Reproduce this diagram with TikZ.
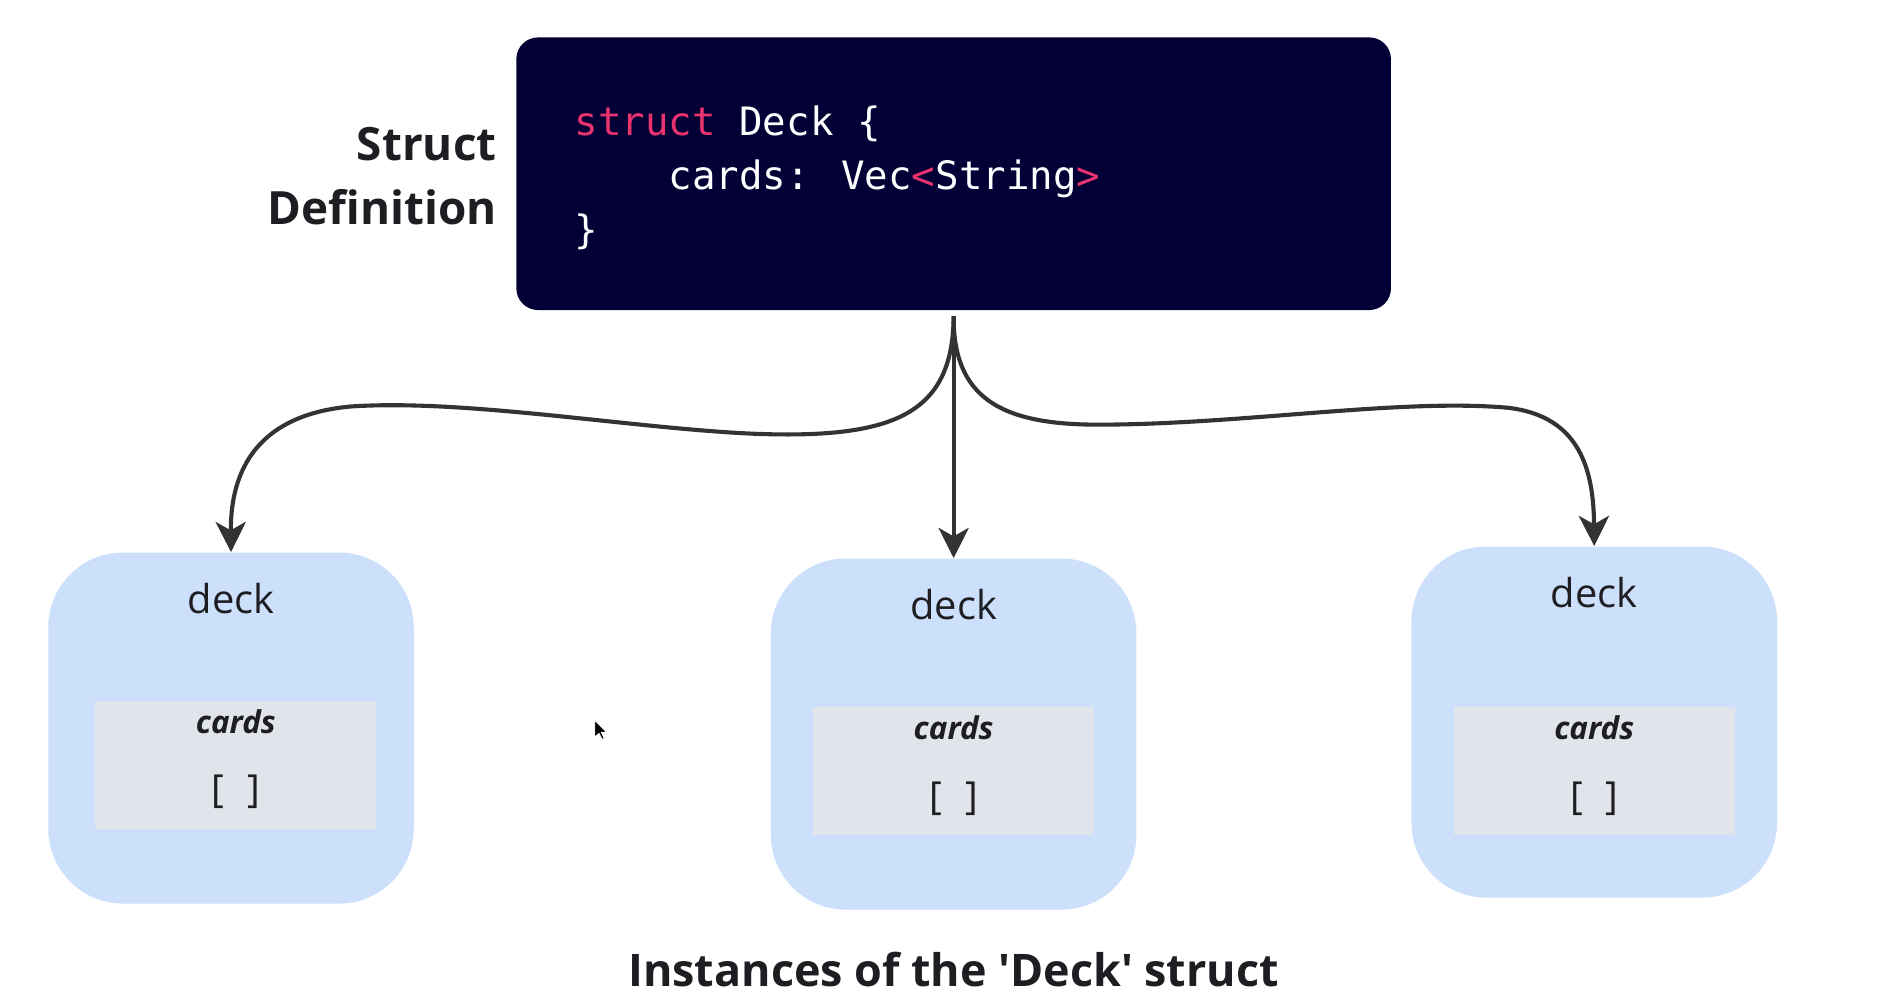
\documentclass[tikz,border=0pt]{standalone}
\usepackage{fontspec}
\setmainfont{Open Sans}[Ligatures=TeXOff]
\newfontfamily\codefont{DejaVu Sans Mono}
\usetikzlibrary{arrows.meta}
\definecolor{navy}{RGB}{2,0,52}
\definecolor{kwpink}{RGB}{232,51,110}
\definecolor{deckblue}{RGB}{205,224,251}
\definecolor{fieldgray}{RGB}{225,229,235}
\definecolor{inktext}{RGB}{30,30,34}
\definecolor{arrowgray}{RGB}{51,51,51}
\tikzset{
  codeline/.style={anchor=base west,inner sep=0pt,text=white,font=\codefont\fontsize{16.2}{20}\selectfont},
  sidelabel/.style={anchor=base east,inner sep=0pt,text=inktext,font=\bfseries\fontsize{19}{23}\selectfont},
  instbox/.style={fill=deckblue,rounded corners=31pt},
  fieldbox/.style={fill=fieldgray},
  decklabel/.style={anchor=base,inner sep=0pt,text=inktext,font=\fontsize{16.5}{20}\selectfont},
  cardslabel/.style={anchor=base,inner sep=0pt,text=inktext,font=\bfseries\itshape\fontsize{13}{16}\selectfont},
  emptylabel/.style={anchor=base,inner sep=0pt,text=inktext,font=\fontsize{16}{20}\selectfont},
  link/.style={draw=arrowgray,line width=1.7pt,-{Stealth[length=12.5pt,width=12.5pt,inset=3.5pt]}},
}
\begin{document}
\begin{tikzpicture}[x=0.5pt,y=-0.5pt]
\useasboundingbox[fill=white] (0,0) rectangle (1565,835.5);
% struct definition box
\node[fill=navy,rounded corners=9pt,minimum width=362.5pt,minimum height=113pt,inner sep=0pt] (def) at (790.5,144) {};
\node[codeline] (l1) at (476,112) {\textcolor{kwpink}{struct} Deck \{};
\node[codeline] (l2) at (554,157) {cards: Vec\textcolor{kwpink}{<}String\textcolor{kwpink}{>}};
\node[codeline] (l3) at (476,202) {\}};
\node[sidelabel] (s1) at (412,133) {Struct};
\node[sidelabel] (s2) at (412,186) {Definition};
% instance boxes
\foreach \n/\cx/\cy/\fx/\fy in {a/191.5/603.5/195.5/634, b/790.5/608.5/790.5/639, c/1321.5/598.5/1321.5/639}{
  \node[instbox,minimum width=151.5pt,minimum height=145.5pt,inner sep=0pt] (box\n) at (\cx,\cy) {};
  \node[fieldbox,minimum width=116.5pt,minimum height=53pt,inner sep=0pt] (field\n) at (\fx,\fy) {};
  \node[decklabel] (deck\n) at ([yshift=-25.5pt]box\n.north) {deck};
  \node[cardslabel] (cards\n) at ([yshift=-13.5pt]field\n.north) {cards};
  \node[emptylabel] (empty\n) at ([yshift=-42.5pt]field\n.north) {[\,\, ]};
}
\coordinate (src) at (790.5,262);
\draw[link] (src) .. controls (790,340) and (745,362) .. (640,360)
  .. controls (540,358) and (390,330) .. (290,337)
  .. controls (205,345) and (191,400) .. (boxa.north);
\draw[link] (src) -- (boxb.north);
\draw[link] (src) .. controls (790,330) and (830,352) .. (910,352)
  .. controls (1030,352) and (1160,330) .. (1250,338)
  .. controls (1310,345) and (1321,390) .. (boxc.north);
% mouse pointer
\fill[black,draw=white,line width=0.4pt] (493,597) -- (493,611) -- (496.5,608) -- (499,613) -- (501,612) -- (498.5,607) -- (503,607) -- cycle;
\node[anchor=base,inner sep=0pt,text=inktext,font=\bfseries\fontsize{18.6}{23}\selectfont] (title) at (790.5,818) {Instances of the 'Deck' struct};
\end{tikzpicture}
\end{document}
